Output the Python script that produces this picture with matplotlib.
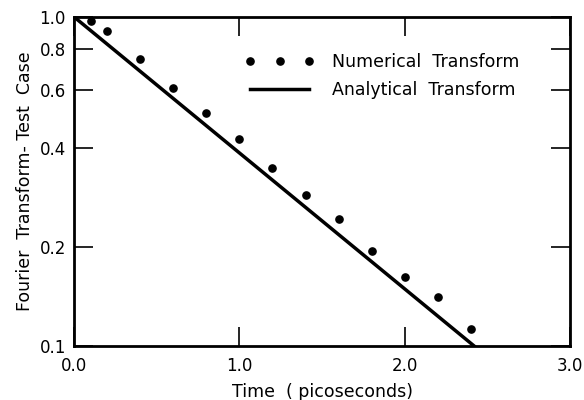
import matplotlib
matplotlib.use("Agg")
import matplotlib.pyplot as plt
from matplotlib.ticker import FixedLocator, FixedFormatter, NullLocator

# numerical transform points
t_num = [0.1, 0.2, 0.4, 0.6, 0.8, 1.0, 1.2, 1.4, 1.6, 1.8, 2.0, 2.2, 2.4]
f_num = [0.974, 0.905, 0.744, 0.607, 0.512, 0.425, 0.347,
         0.288, 0.243, 0.195, 0.162, 0.141, 0.113]

# analytical transform (straight line on log scale)
t_ana = [0.0, 2.42]
f_ana = [1.0, 0.1]

x_ticks = [0.0, 1.0, 2.0, 3.0]
x_labels = ["0.0", "1.0", "2.0", "3.0"]
y_ticks = [0.1, 0.2, 0.4, 0.6, 0.8, 1.0]
y_labels = ["0.1", "0.2", "0.4", "0.6", "0.8", "1.0"]

fig = plt.figure(figsize=(5.84, 4.0), dpi=100)
ax = fig.add_axes([0.127, 0.135, 0.849, 0.8225])

ax.plot(t_num, f_num, linestyle="none", marker="o", markersize=5.2,
        color="black", label="Numerical  Transform")
ax.plot(t_ana, f_ana, color="black", linewidth=2.5,
        label="Analytical  Transform")

ax.set_yscale("log")
ax.set_xlim(0, 3.0)
ax.set_ylim(0.1, 1.0)

ax.xaxis.set_major_locator(FixedLocator(x_ticks))
ax.xaxis.set_major_formatter(FixedFormatter(x_labels))
ax.yaxis.set_major_locator(FixedLocator(y_ticks))
ax.yaxis.set_major_formatter(FixedFormatter(y_labels))
ax.yaxis.set_minor_locator(NullLocator())
ax.xaxis.set_minor_locator(NullLocator())

ax.tick_params(direction="in", length=14, width=1.2, labelsize=12,
               top=True, right=True, pad=6)
ax.tick_params(axis="x", pad=8)
for s in ax.spines.values():
    s.set_linewidth(2)

ax.set_xlabel("Time  ( picoseconds)", fontsize=12.5, labelpad=6)
ax.set_ylabel("Fourier  Transform- Test  Case", fontsize=12.5, labelpad=4)

ax.legend(loc="center left", bbox_to_anchor=(0.345, 0.82), frameon=False,
          numpoints=3, handlelength=4.0, handletextpad=1.0, fontsize=12.5,
          labelspacing=0.6, borderpad=0, borderaxespad=0)

fig.savefig("out.png", dpi=100)
